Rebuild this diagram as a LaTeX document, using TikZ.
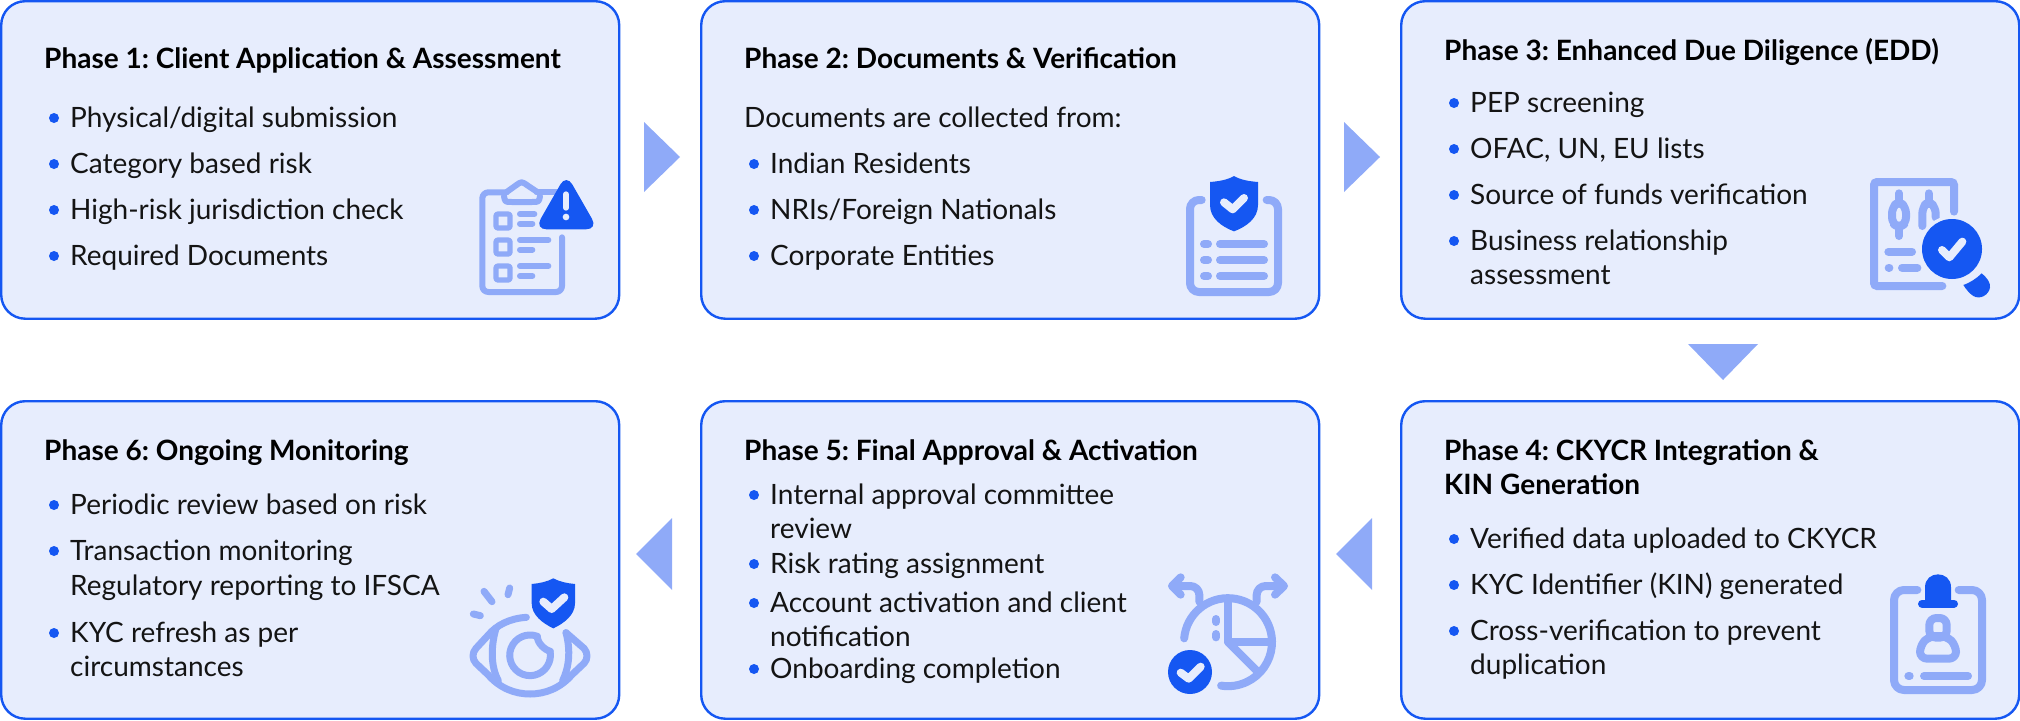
\documentclass[tikz,border=0pt]{standalone}
\usepackage{fontspec}
\setmainfont{Lato}
\definecolor{boxfill}{HTML}{E7EDFD}
\definecolor{boxline}{HTML}{1557F2}
\definecolor{iconlight}{HTML}{8FAAF8}
\definecolor{icondark}{HTML}{1557F2}
\definecolor{inktext}{HTML}{141414}
\tikzset{
  phasebox/.style={draw=boxline,fill=boxfill,line width=2.4pt,rounded corners=24pt,anchor=north west,minimum width=618pt,minimum height=317.5pt,inner sep=0pt},
  phasetitle/.style={anchor=base west,inner sep=0pt,text=black,font=\fontsize{28}{36}\selectfont\bfseries},
  itemtext/.style={anchor=base west,inner sep=0pt,text=inktext,font=\fontsize{28}{36}\selectfont},
  bulletdot/.style={circle,fill=boxline,minimum size=10pt,inner sep=0pt},
  flowarrow/.style={fill=iconlight},
  iconline/.style={draw=iconlight,line width=7pt,line cap=round,line join=round},
  iconcheck/.style={draw=boxfill,line width=8pt,line cap=round,line join=round},
  icondarkfill/.style={fill=icondark}
}
\frenchspacing
\begin{document}
\begin{tikzpicture}[x=1pt,y=-1pt]
  \useasboundingbox (0,0) rectangle (2020,720);
  % boxes
  \node[phasebox] (p1) at (0,0) {};
  \node[phasebox] (p2) at (700,0) {};
  \node[phasebox] (p3) at (1400,0) {};
  \node[phasebox] (p4) at (1400,400) {};
  \node[phasebox] (p5) at (700,400) {};
  \node[phasebox] (p6) at (0,400) {};
  % arrows
  \fill[flowarrow] (644,122) -- (680,157) -- (644,192) -- cycle;
  \fill[flowarrow] (1344,122) -- (1380,157) -- (1344,192) -- cycle;
  \fill[flowarrow] (1688,344) -- (1758,344) -- (1723,380) -- cycle;
  \fill[flowarrow] (1372,518) -- (1336,554) -- (1372,590) -- cycle;
  \fill[flowarrow] (672,518) -- (636,554) -- (672,590) -- cycle;
  % phase 1
  \node[phasetitle] (p1title) at (44,68) {Phase 1: Client Application \& Assessment};
  \foreach \y/\t in {127/{Physical/digital submission},173/Category based risk,219/High-risk jurisdiction check,265/Required Documents} {
    \node[itemtext] (p1item\y) at (70,\y) {\t};
    \node[bulletdot] (p1dot\y) at (54,\y-9) {};
  }
  % phase 2
  \node[phasetitle] (p2title) at (744,68) {Phase 2: Documents \& Verification};
  \node[itemtext] (p2lead) at (744,127) {Documents are collected from:};
  \foreach \y/\t in {173/Indian Residents,219/{NRIs/Foreign Nationals},265/Corporate Entities} {
    \node[itemtext] (p2item\y) at (770,\y) {\t};
    \node[bulletdot] (p2dot\y) at (754,\y-9) {};
  }
  % phase 3
  \node[phasetitle] (p3title) at (1444,60) {Phase 3: Enhanced Due Diligence (EDD)};
  \foreach \y/\t in {112/PEP screening,158/{OFAC, UN, EU lists},204/Source of funds verification,250/Business relationship} {
    \node[itemtext] (p3item\y) at (1470,\y) {\t};
    \node[bulletdot] (p3dot\y) at (1454,\y-9) {};
  }
  \node[itemtext] (p3cont) at (1470,284) {assessment};
  % phase 4
  \node[phasetitle] (p4title) at (1444,460) {Phase 4: CKYCR Integration \&};
  \node[phasetitle] (p4titlecont) at (1444,494) {KIN Generation};
  \foreach \y/\t in {548/Verified data uploaded to CKYCR,594/KYC Identifier (KIN) generated,640/Cross-verification to prevent} {
    \node[itemtext] (p4item\y) at (1470,\y) {\t};
    \node[bulletdot] (p4dot\y) at (1454,\y-9) {};
  }
  \node[itemtext] (p4cont) at (1470,674) {duplication};
  % phase 5
  \node[phasetitle] (p5title) at (744,460) {Phase 5: Final Approval \& Activation};
  \foreach \y/\t in {504/Internal approval committee,573/Risk rating assignment,612/Account activation and client,678/Onboarding completion} {
    \node[itemtext] (p5item\y) at (770,\y) {\t};
    \node[bulletdot] (p5dot\y) at (754,\y-9) {};
  }
  \node[itemtext] (p5contone) at (770,538) {review};
  \node[itemtext] (p5conttwo) at (770,646) {notification};
  % phase 6
  \node[phasetitle] (p6title) at (44,460) {Phase 6: Ongoing Monitoring};
  \foreach \y/\t in {514/Periodic review based on risk,560/Transaction monitoring,642/KYC refresh as per} {
    \node[itemtext] (p6item\y) at (70,\y) {\t};
    \node[bulletdot] (p6dot\y) at (54,\y-9) {};
  }
  \node[itemtext] (p6contone) at (70,595) {Regulatory reporting to IFSCA};
  \node[itemtext] (p6conttwo) at (70,676) {circumstances};
  % icon phase 1
  \begin{scope}[shift={(440,160)},scale=1/3]
    \draw[iconline,line width=6pt,rounded corners=6pt] (366,232) -- (366,396) -- (127,396) -- (127,97) -- (200,97);
    \draw[iconline,line width=6pt] (290,97) -- (350,97);
    \draw[iconline,line width=6pt] (200,96) -- (228,76) .. controls (245,64) .. (262,76) -- (292,96);
    \draw[iconline,line width=6pt] (192,108) .. controls (195,126) .. (215,126) -- (275,126) .. controls (297,126) .. (300,108);
    \foreach \y in {162,240,318} {
      \draw[iconline,line width=5.3pt,rounded corners=2pt] (168,\y) rectangle (210,\y+42);
    }
    \foreach \y/\e in {162/283,191/277,240/325,269/277,318/325,348/277} {
      \draw[iconline,line width=6pt] (240,\y) -- (\e,\y);
    }
    \fill[icondarkfill,rounded corners=12pt] (379,42) -- (474,208) -- (284,208) -- cycle;
    \draw[iconcheck,line width=6pt] (378,103) -- (378,143);
    \fill[boxfill] (378,171) circle[radius=10];
  \end{scope}
  % icon phase 2
  \begin{scope}[shift={(1150,170)},scale=1/3]
    \draw[iconline,line width=8pt,rounded corners=9pt] (155,90) -- (120,90) -- (120,366) -- (384,366) -- (384,90) -- (350,90);
    \foreach \y in {222,270,318} {
      \draw[iconline,line width=8pt] (162,\y) -- (174,\y);
      \draw[iconline,line width=8pt] (210,\y) -- (342,\y);
    }
    \fill[icondarkfill] (252,18) .. controls (232,30) and (205,34) .. (180,36) -- (180,105) .. controls (180,145) and (215,170) .. (252,184) .. controls (289,170) and (324,145) .. (324,105) -- (324,36) .. controls (299,34) and (272,30) .. (252,18) -- cycle;
    \draw[iconcheck] (222,97) -- (248,118) -- (282,84);
  \end{scope}
  % icon phase 3
  \begin{scope}[shift={(1840,160)},scale=1/3]
    \draw[iconline,line width=8pt,line join=miter,rounded corners=3pt] (342,155) -- (342,66) -- (102,66) -- (102,378) -- (307,378);
    \draw[iconline,line width=8pt] (177,100) -- (177,125);
    \draw[iconline,line width=8pt] (177,205) -- (177,228);
    \draw[iconline,line width=8pt,rounded corners=6pt] (177,124) -- (198,142) -- (198,190) -- (177,202) -- (156,190) -- (156,142) -- cycle;
    \draw[iconline,line width=8pt] (266,100) -- (266,125);
    \draw[iconline,line width=8pt,rounded corners=6pt] (247,198) -- (247,142) -- (266,124) -- (287,142) -- (287,172);
    \draw[iconline,line width=8pt] (145,275) -- (216,275);
    \draw[iconline,line width=8pt] (146,323) -- (148,323);
    \draw[iconline,line width=8pt] (186,323) -- (232,323);
    \fill[boxfill] (336,267) circle[radius=100];
    \fill[icondarkfill] (336,267) circle[radius=90];
    \draw[iconcheck] (306,270) -- (328,292) -- (367,245);
    \fill[icondarkfill] (370,375) .. controls (392,367) and (410,355) .. (425,340) .. controls (440,352) and (452,368) .. (450,382) .. controls (447,405) and (420,420) .. (400,408) .. controls (388,400) and (378,388) .. (370,375) -- cycle;
  \end{scope}
  % icon phase 4
  \begin{scope}[shift={(1860,560)},scale=1/3]
    \draw[iconline,line width=8pt,rounded corners=10pt] (172,90) -- (102,90) -- (102,390) -- (366,390) -- (366,90) -- (296,90);
    \draw[iconline,line width=8pt] (145,348) -- (149,348);
    \draw[iconline,line width=8pt] (192,348) -- (324,348);
    \fill[icondarkfill] (195,125) -- (195,82) .. controls (195,30) and (273,30) .. (273,82) -- (273,125) -- cycle;
    \draw[icondark,line width=8pt,line cap=round] (186,131) -- (282,131);
    \draw[iconline,line width=8pt,rounded corners=7pt] (208,174) rectangle (260,233);
    \draw[iconline,line width=8pt,rounded corners=7pt] (180,296) -- (180,256) -- (208,228) -- (260,228) -- (288,256) -- (288,296) -- cycle;
  \end{scope}
  % icon phase 5
  \begin{scope}[shift={(1140,560)},scale=1/3]
    \draw[iconline,line width=8pt] (132.5,235) arc[start angle=185,end angle=459,radius=132];
    \draw[iconline,line width=8pt] (264,120) -- (264,246) -- (395,246);
    \draw[iconline,line width=8pt] (264,246) -- (350,332);
    \draw[iconline,line width=8pt] (228,177) -- (228,186);
    \draw[iconline,line width=8pt] (228,222) -- (228,232);
    \draw[iconline,line width=8pt,rounded corners=9pt] (178,125) -- (178,78) -- (105,78);
    \draw[iconline,line width=8pt] (122,52) -- (96,78) -- (122,104);
    \draw[iconline,line width=8pt,rounded corners=9pt] (350,125) -- (350,78) -- (425,78);
    \draw[iconline,line width=8pt] (405,52) -- (432,78) -- (405,104);
    \fill[icondarkfill] (150,336) circle[radius=66];
    \draw[iconcheck] (122,338) -- (146,356) -- (182,320);
  \end{scope}
  % icon phase 6
  \begin{scope}[shift={(450,560)},scale=1/3]
    \draw[iconline,line width=7pt] (102,94) -- (126,125);
    \draw[iconline,line width=7pt] (179,84) -- (174,104);
    \draw[iconline,line width=7pt] (70,162) -- (91,167);
    \draw[iconline] (229,172) .. controls (180,175) and (140,195) .. (115,225) -- (78,265) .. controls (66,278) and (66,298) .. (78,310) -- (115,345) .. controls (150,385) and (195,402) .. (240,402) .. controls (285,402) and (330,385) .. (365,345) -- (402,310) .. controls (414,298) and (414,278) .. (402,265) -- (348,218);
    \draw[iconline] (138,205) .. controls (122,260) and (122,320) .. (145,362);
    \draw[iconline] (348,218) .. controls (362,270) and (358,320) .. (338,362);
    \draw[iconline] (262,229) arc[start angle=-69,end angle=-372,radius=61];
    \draw[iconline] (262,229) .. controls (262,250) and (285,270) .. (301,274);
    \fill[icondarkfill] (310,55) .. controls (292,65) and (268,70) .. (245,72) -- (245,130) .. controls (245,165) and (278,190) .. (310,205) .. controls (342,190) and (375,165) .. (375,130) -- (375,72) .. controls (352,70) and (328,65) .. (310,55) -- cycle;
    \draw[iconcheck] (280,125) -- (305,147) -- (343,112);
  \end{scope}
\end{tikzpicture}
\end{document}
